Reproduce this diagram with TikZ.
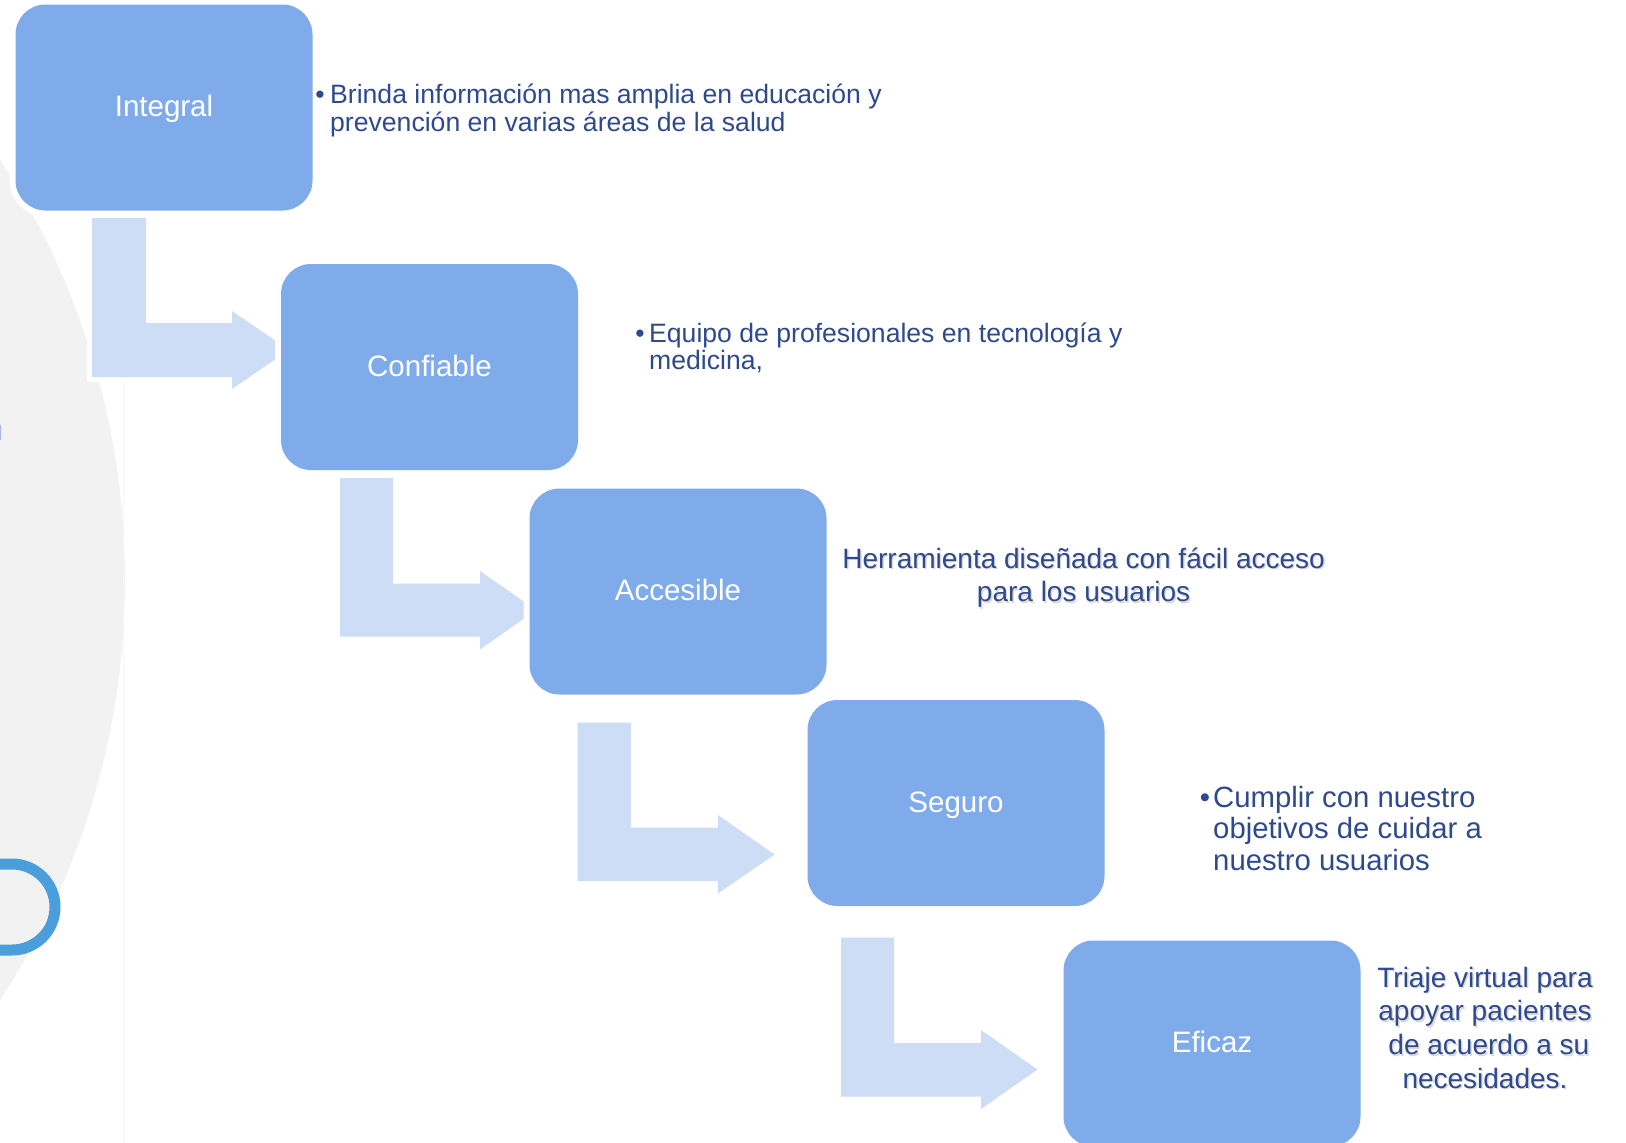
\documentclass[tikz,border=0pt]{standalone}
\usepackage{fontspec}
\setmainfont{Liberation Sans}
\definecolor{boxblue}{RGB}{127,171,235}
\definecolor{arrowblue}{RGB}{205,221,245}
\definecolor{textblue}{RGB}{46,74,140}
\definecolor{bggray}{RGB}{242,242,242}
\definecolor{ringblue}{RGB}{74,158,220}
\definecolor{marklilac}{RGB}{170,182,230}
\definecolor{faintline}{RGB}{246,246,246}
\begin{document}
\begin{tikzpicture}[x=1pt,y=-1pt,
  stepbox/.style={rounded corners=30pt, minimum width=297pt, minimum height=206pt,
    inner sep=0pt, text height=21pt, text depth=3pt, fill=boxblue, text=white, font=\fontsize{29.5}{32}\selectfont,
    preaction={draw=white,line width=12pt}},
  bentarrow/.style={fill=arrowblue, preaction={draw=white,line width=10pt,line join=miter}},
  bul/.style={inner sep=0pt, text=textblue, font=\fontsize{26.6}{27.3}\selectfont, anchor=base},
  txtA/.style={inner sep=0pt, text=textblue, font=\fontsize{26.6}{27.3}\selectfont, anchor=base west},
  txtB/.style={inner sep=0pt, text=textblue, font=\fontsize{28}{33.8}\selectfont, anchor=base},
  txtC/.style={inner sep=0pt, text=textblue, font=\fontsize{29.3}{31.6}\selectfont, anchor=base west},
  shadowtxt/.style={inner sep=0pt, text=gray, opacity=0.3, font=\fontsize{28}{33.8}\selectfont, anchor=base},
]
\path[use as bounding box, fill=white] (0,0) rectangle (1626,1143);
\begin{scope}
\clip (0,0) rectangle (1626,1143);
% background decoration
\fill[bggray] (-643,580) circle[radius=768];
\draw[faintline, line width=1pt] (123,382) -- (123,1143);
\draw[ringblue, line width=11pt] (-30,864) -- (12,864) arc[start angle=-90, end angle=90, radius=43] -- (-30,950);
\draw[marklilac, line width=2pt] (0,425) -- (0,440);

% bent arrows
\path[bentarrow] (92,218) -- (146,218) -- (146,323) -- (232,323) -- (232,311) -- (289,350) -- (232,389) -- (232,377) -- (92,377) -- cycle;
\path[bentarrow] (340,478) -- (393,478) -- (393,583.5) -- (480,583.5) -- (480,571) -- (536,610) -- (480,649.5) -- (480,636.5) -- (340,636.5) -- cycle;
\path[bentarrow] (577.5,722.5) -- (631,722.5) -- (631,827.5) -- (718,827.5) -- (718,815) -- (774.5,854.5) -- (718,893.5) -- (718,881) -- (577.5,881) -- cycle;
\path[bentarrow] (841,937.5) -- (894,937.5) -- (894,1043) -- (981,1043) -- (981,1030) -- (1037.5,1069.5) -- (981,1109) -- (981,1096.5) -- (841,1096.5) -- cycle;

% boxes
\node[stepbox] (integral) at (164,107.5) {Integral};
\node[stepbox] (confiable) at (429.5,367) {Confiable};
\node[stepbox] (accesible) at (678,591.5) {Accesible};
\node[stepbox] (seguro) at (956,803) {Seguro};
\node[stepbox] (eficaz) at (1212,1043.5) {Eficaz};

% texts
\node[bul] (b1) at (320,103.5) {•};
\node[txtA] (t1) at (330,103.5) {\begin{tabular}[t]{@{}l@{}}Brinda información mas amplia en educación y\\prevención en varias áreas de la salud\end{tabular}};

\node[bul] (b2) at (640,342) {•};
\node[txtA] (t2) at (649,342) {\begin{tabular}[t]{@{}l@{}}Equipo de profesionales en tecnología y\\medicina,\end{tabular}};

\node[shadowtxt] (t3s) at (1085,569.5) {\begin{tabular}[t]{@{}c@{}}Herramienta diseñada con fácil acceso\\para los usuarios\end{tabular}};
\node[txtB] (t3) at (1083.6,568) {\begin{tabular}[t]{@{}c@{}}Herramienta diseñada con fácil acceso\\para los usuarios\end{tabular}};

\node[bul, font=\fontsize{29.3}{31.6}\selectfont] (b4) at (1205,807) {•};
\node[txtC] (t4) at (1213,807) {\begin{tabular}[t]{@{}l@{}}Cumplir con nuestro\\objetivos de cuidar a\\nuestro usuarios\end{tabular}};

\node[shadowtxt] (t5s) at (1486.5,988.5) {\begin{tabular}[t]{@{}c@{}}Triaje virtual para\\apoyar pacientes\\\ de acuerdo a su\\necesidades.\end{tabular}};
\node[txtB] (t5) at (1485,987) {\begin{tabular}[t]{@{}c@{}}Triaje virtual para\\apoyar pacientes\\\ de acuerdo a su\\necesidades.\end{tabular}};
\end{scope}
\end{tikzpicture}
\end{document}
